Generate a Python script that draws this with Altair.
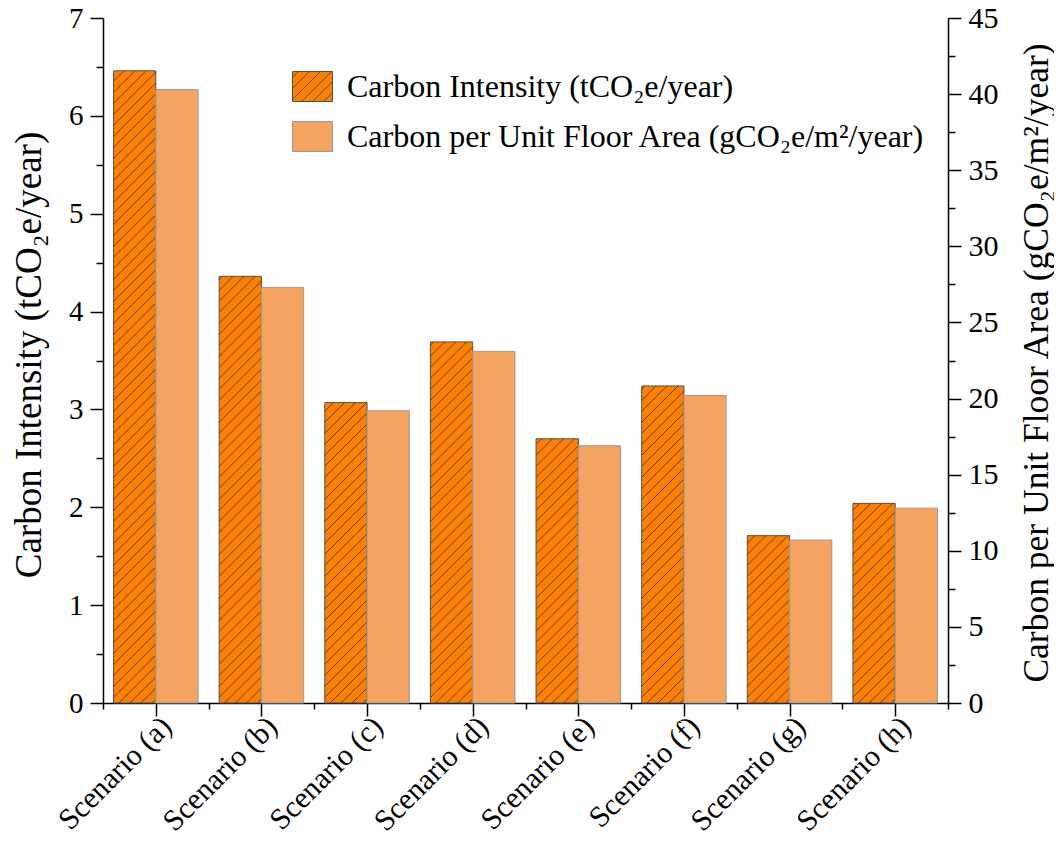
import json
import pandas as pd
import altair as alt

FONT = "Liberation Serif"

# ---------------- data ----------------
scenarios = ["Scenario (a)", "Scenario (b)", "Scenario (c)", "Scenario (d)",
             "Scenario (e)", "Scenario (f)", "Scenario (g)", "Scenario (h)"]
carbon_intensity = [6.46, 4.36, 3.07, 3.69, 2.70, 3.24, 1.71, 2.04]        # tCO2e/year
carbon_per_area = [40.3, 27.3, 19.2, 23.1, 16.9, 20.2, 10.7, 12.8]        # gCO2e/m2/year
series_names = ["Carbon Intensity (tCO\u2082e/year)",
                "Carbon per Unit Floor Area (gCO\u2082e/m\u00b2/year)"]
left_title = "Carbon Intensity (tCO\u2082e/year)"
right_title = "Carbon per Unit Floor Area (gCO\u2082e/m\u00b2/year)"
left_ticks = [0, 1, 2, 3, 4, 5, 6, 7]
right_ticks = [0, 5, 10, 15, 20, 25, 30, 35, 40, 45]

# ---------------- layout / style ----------------
W, H = 845, 685
n = len(scenarios)
LMAX, RMAX = left_ticks[-1], right_ticks[-1]
C_HATCH = "#FF8000"
C_LIGHT = "#F4A460"

df = pd.DataFrame({
    "scenario": scenarios,
    "ci": carbon_intensity,
    "cpa": carbon_per_area,
})
df["idx"] = range(n)
df["x0h"] = df["idx"] + 0.1
df["x1h"] = df["idx"] + 0.5
df["x0l"] = df["idx"] + 0.5
df["x1l"] = df["idx"] + 0.9
df["zero"] = 0.0

# hatch segments (/ direction) inside each hatched bar, derived from the bar values
PX_X = W / n
PX_Y = H / LMAX
SP = 11.0
rows = []
for i, v in enumerate(carbon_intensity):
    x0 = i + 0.1
    w = 0.4 * PX_X
    h = v * PX_Y
    c = -w + 4.0
    while c < h:
        a = max(0.0, -c)
        b = min(w, h - c)
        if b > a:
            rows.append({"hx": x0 + a / PX_X, "hy": (a + c) / PX_Y,
                         "hx2": x0 + b / PX_X, "hy2": (b + c) / PX_Y})
        c += SP
hatch_df = pd.DataFrame(rows)

# legend symbol paths (unit box -1..1)
rect_path = "M-1,-0.75H1V0.75H-1Z"
hp = [rect_path]
k = -1.75 + 0.3
while k < 1.75:
    xa = max(-1.0, k - 0.75)
    xb = min(1.0, k + 0.75)
    if xb > xa:
        hp.append(f"M{xa:.3f},{k - xa:.3f}L{xb:.3f},{k - xb:.3f}")
    k += 0.55
hatch_path = "".join(hp)

legend_df = pd.DataFrame({
    "series": series_names,
    "x": [df["x0h"][0] + 0.2, df["x0l"][0] + 0.2],
    "y": [carbon_intensity[0], carbon_intensity[0]],
})

xscale = alt.Scale(domain=[0, n], nice=False, zero=False)
yl = alt.Scale(domain=[0, LMAX], nice=False)
yr = alt.Scale(domain=[0, RMAX], nice=False)

label_expr = json.dumps(scenarios, ensure_ascii=False) + "[floor(datum.value)]"

x_major = alt.Axis(orient="bottom", values=[i + 0.5 for i in range(n)], labelExpr=label_expr,
                   labelAngle=315, labelFontSize=30, labelPadding=-5,
                   tickSize=13, grid=False, title=None, labelOverlap=False,
                   labelFlush=False, domain=True)
x_minor = alt.Axis(orient="bottom", values=list(range(n + 1)), labels=False, tickSize=6,
                   grid=False, title=None, domain=False)

l_major = alt.Axis(orient="left", values=left_ticks, tickSize=13, labelFontSize=29, labelPadding=7,
                   grid=False, title=left_title, titleFontSize=37, titleAngle=270,
                   titleX=-74, titleY=H / 2 - 6, titleAlign="center", titleBaseline="middle")
l_minor = alt.Axis(orient="left", values=[t + 0.5 for t in left_ticks[:-1]], labels=False, tickSize=7,
                   grid=False, title=None, domain=False)
r_major = alt.Axis(orient="right", values=right_ticks, tickSize=13, labelFontSize=30,
                   labelPadding=7, grid=False, title=right_title, titleFontSize=35.5,
                   titleAngle=270, titleX=88, titleY=H / 2 + 2, titleAlign="center",
                   titleBaseline="middle")
r_minor = alt.Axis(orient="right", values=[t + 2.5 for t in right_ticks[:-1]], labels=False,
                   tickSize=7, grid=False, title=None, domain=False)

bars_h = alt.Chart(df).mark_bar(fill=C_HATCH, stroke="#505050", strokeWidth=1).encode(
    x=alt.X("x0h:Q", scale=xscale, axis=x_major),
    x2="x1h:Q",
    y=alt.Y("ci:Q", scale=yl, axis=l_major),
    y2="zero:Q",
)
hatch = alt.Chart(hatch_df).mark_rule(stroke="#4a3a2a", strokeWidth=0.9).encode(
    x=alt.X("hx:Q", scale=xscale, axis=None),
    x2="hx2:Q",
    y=alt.Y("hy:Q", scale=yl, axis=None),
    y2="hy2:Q",
)
left_minor = alt.Chart(df).mark_point(opacity=0).encode(
    x=alt.X("x0h:Q", scale=xscale, axis=x_minor),
    y=alt.Y("ci:Q", scale=yl, axis=l_minor),
)
leg = alt.Legend(title=None, orient="none", legendX=189, legendY=48, symbolSize=1600,
                 symbolOpacity=1, symbolStrokeWidth=1, labelFont=FONT, labelFontSize=32,
                 labelColor="black", labelOffset=14, rowPadding=12, padding=0,
                 labelLimit=900)
legend_pts = alt.Chart(legend_df).mark_point(filled=True, opacity=0).encode(
    x=alt.X("x:Q", scale=xscale, axis=None),
    y=alt.Y("y:Q", scale=yl, axis=None),
    fill=alt.Fill("series:N", scale=alt.Scale(domain=series_names, range=[C_HATCH, C_LIGHT]), legend=leg),
    shape=alt.Shape("series:N", scale=alt.Scale(domain=series_names, range=[hatch_path, rect_path]), legend=leg),
    stroke=alt.Stroke("series:N", scale=alt.Scale(domain=series_names, range=["#505050", "#9a9a9a"]), legend=leg),
)

bars_l = alt.Chart(df).mark_bar(fill=C_LIGHT, stroke="#9a9a9a", strokeWidth=1).encode(
    x=alt.X("x0l:Q", scale=xscale, axis=None),
    x2="x1l:Q",
    y=alt.Y("cpa:Q", scale=yr, axis=r_major),
    y2="zero:Q",
)
right_minor = alt.Chart(df).mark_point(opacity=0).encode(
    x=alt.X("x0l:Q", scale=xscale, axis=None),
    y=alt.Y("cpa:Q", scale=yr, axis=r_minor),
)

left = alt.layer(bars_h, hatch, left_minor, legend_pts).resolve_axis(x="independent", y="independent")
right = alt.layer(bars_l, right_minor).resolve_axis(x="independent", y="independent")

chart = alt.layer(left, right).resolve_scale(y="independent").properties(
    width=W, height=H,
    autosize=alt.AutoSizeParams(type="none"),
    padding={"left": 95, "top": 10, "right": 106, "bottom": 137},
).configure_view(strokeWidth=0).configure_axis(
    labelFont=FONT, titleFont=FONT, labelColor="black", titleColor="black",
    domainColor="black", tickColor="black", domainWidth=1.5, tickWidth=1.5,
    titleFontWeight="normal",
)

chart.save("out.html", embed_options={"renderer": "svg", "actions": False})
